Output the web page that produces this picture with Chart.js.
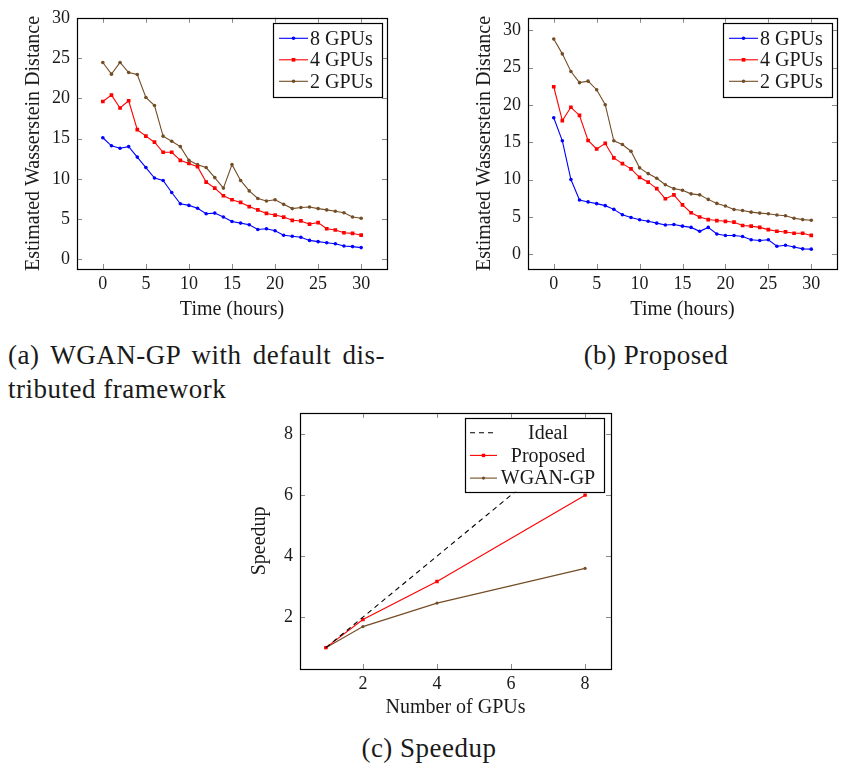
<!DOCTYPE html>
<html>
<head>
<meta charset="utf-8">
<script src="https://cdn.jsdelivr.net/npm/chart.js@4.4.1/dist/chart.umd.min.js"></script>
<style>
  body { margin: 0; background: #fff; width: 841px; height: 766px; position: relative; overflow: hidden; font-family: "Liberation Serif", "DejaVu Serif", serif; color: #1a1a1a; }
  canvas { position: absolute; }
  .cap { position: absolute; font-size: 27px; letter-spacing: 0.5px; white-space: nowrap; line-height: 32px; }
</style>
</head>
<body>
<canvas id="chartA" style="left:0;top:0" width="400" height="330"></canvas>
<canvas id="chartB" style="left:450px;top:0" width="391" height="330"></canvas>
<canvas id="chartC" style="left:240px;top:395px" width="390" height="330"></canvas>
<div class="cap" style="left:8px;top:339px;width:377px;text-align:justify;text-align-last:justify;">(a) WGAN-GP with default dis-</div>
<div class="cap" style="left:8px;top:373px;">tributed framework</div>
<div class="cap" style="left:556px;top:339px;width:200px;text-align:center;">(b) Proposed</div>
<div class="cap" style="left:329px;top:732px;width:200px;text-align:center;">(c) Speedup</div>
<script>
const hours = [0, 1, 2, 3, 4, 5, 6, 7, 8, 9, 10, 11, 12, 13, 14, 15, 16, 17, 18, 19, 20, 21, 22, 23, 24, 25, 26, 27, 28, 29, 30];

// (a) WGAN-GP with default distributed framework
const wgan8 = [15.1, 14.1, 13.8, 14.0, 12.7, 11.4, 10.1, 9.8, 8.3, 6.9, 6.7, 6.35, 5.66, 5.74, 5.25, 4.7, 4.5, 4.3, 3.7, 3.8, 3.55, 3.0, 2.87, 2.75, 2.35, 2.2, 2.06, 1.94, 1.66, 1.58, 1.46];
const wgan4 = [19.6, 20.4, 18.8, 19.7, 16.1, 15.3, 14.55, 13.3, 13.3, 12.3, 11.9, 11.5, 9.6, 8.85, 7.9, 7.4, 7.07, 6.55, 6.14, 5.7, 5.5, 5.25, 4.85, 4.77, 4.37, 4.57, 3.8, 3.64, 3.3, 3.23, 3.0];
const wgan2 = [24.45, 23.0, 24.45, 23.2, 22.96, 20.1, 19.1, 15.3, 14.67, 14.0, 12.3, 11.76, 11.4, 10.15, 8.85, 11.76, 9.8, 8.5, 7.56, 7.24, 7.4, 6.83, 6.3, 6.43, 6.5, 6.3, 6.14, 5.98, 5.78, 5.25, 5.1];

// (b) Proposed
const prop8 = [18.3, 15.2, 10.0, 7.25, 7.0, 6.77, 6.5, 6.0, 5.28, 4.9, 4.6, 4.4, 4.15, 3.9, 3.97, 3.75, 3.58, 3.06, 3.58, 2.7, 2.5, 2.5, 2.36, 1.92, 1.83, 1.92, 1.05, 1.18, 0.96, 0.7, 0.66];
const prop4 = [22.45, 17.9, 19.7, 18.6, 15.24, 14.1, 14.85, 12.9, 12.14, 11.44, 10.3, 9.65, 8.78, 7.42, 7.95, 6.6, 5.55, 4.98, 4.63, 4.5, 4.4, 4.28, 3.84, 3.75, 3.58, 3.28, 3.06, 2.97, 2.8, 2.8, 2.5];
const prop2 = [28.86, 26.86, 24.5, 23.0, 23.2, 22.05, 20.04, 15.2, 14.7, 13.8, 11.57, 10.8, 10.17, 9.3, 8.78, 8.56, 8.08, 7.95, 7.34, 6.8, 6.46, 5.98, 5.85, 5.63, 5.5, 5.41, 5.24, 5.15, 4.8, 4.63, 4.54];

// (c) Speedup
const gpuCounts = [1, 2, 4, 8];
const idealSpeedup = [1, 2, 4, 8];
const proposedSpeedup = [1, 1.92, 3.17, 6.0];
const wganSpeedup = [1, 1.69, 2.46, 3.6];

const hourTicks = [0, 5, 10, 15, 20, 25, 30];
const distTicks = [0, 5, 10, 15, 20, 25, 30];
const gpuTicks = [2, 4, 6, 8];
const speedupTicks = [2, 4, 6, 8];

const BLUE = '#0000ff', RED = '#ff0000', BROWN = '#734d26';
const FONT = '"Liberation Serif", "DejaVu Serif", serif';
const TEXT = '#1a1a1a';

const pts = (xs, ys) => xs.map((x, i) => ({ x: x, y: ys[i] }));

function series(label, xs, ys, color, style, r) {
  return {
    label: label,
    data: pts(xs, ys),
    borderColor: color,
    backgroundColor: color,
    borderWidth: 1.1,
    pointStyle: style,
    pointRadius: r,
    pointBorderWidth: 0,
    tension: 0,
  };
}

// axis box, inward ticks on all sides and a boxed legend (pgfplots look)
const frame = {
  id: 'frame',
  afterDatasetsDraw(chart, args, o) {
    const { ctx, chartArea: a, scales: { x, y } } = chart;
    ctx.save();
    ctx.strokeStyle = '#8a8a8a';
    ctx.lineWidth = 1;
    ctx.beginPath();
    x.ticks.forEach(t => {
      const px = Math.round(x.getPixelForValue(t.value)) + 0.5;
      ctx.moveTo(px, a.bottom); ctx.lineTo(px, a.bottom - 5);
      ctx.moveTo(px, a.top); ctx.lineTo(px, a.top + 5);
    });
    y.ticks.forEach(t => {
      const py = Math.round(y.getPixelForValue(t.value)) + 0.5;
      ctx.moveTo(a.left, py); ctx.lineTo(a.left + 5, py);
      ctx.moveTo(a.right, py); ctx.lineTo(a.right - 5, py);
    });
    ctx.stroke();
    ctx.strokeStyle = '#000';
    ctx.lineWidth = 1.2;
    ctx.strokeRect(Math.round(a.left) + 0.5, Math.round(a.top) + 0.5, Math.round(a.width), Math.round(a.height));

    // legend
    const bx = a.right - o.inset - o.w, by = a.top + o.insetTop;
    ctx.fillStyle = '#fff';
    ctx.fillRect(bx, by, o.w, o.h);
    ctx.strokeStyle = '#000';
    ctx.lineWidth = 1.2;
    ctx.strokeRect(Math.round(bx) + 0.5, Math.round(by) + 0.5, o.w, o.h);
    ctx.font = '20px ' + FONT;
    ctx.textBaseline = 'middle';
    chart.data.datasets.forEach((ds, i) => {
      const ly = by + o.rows[i];
      ctx.strokeStyle = ds.borderColor;
      ctx.lineWidth = ds.borderWidth;
      ctx.setLineDash(ds.borderDash || []);
      ctx.beginPath();
      ctx.moveTo(bx + o.sample[0], ly);
      ctx.lineTo(bx + o.sample[1], ly);
      ctx.stroke();
      ctx.setLineDash([]);
      const mx = bx + (o.sample[0] + o.sample[1]) / 2;
      ctx.fillStyle = ds.borderColor;
      if (ds.pointRadius > 0) {
        if (ds.pointStyle === 'rect') {
          const s = ds.pointRadius * Math.SQRT1_2;
          ctx.fillRect(mx - s, ly - s, 2 * s, 2 * s);
        } else {
          ctx.beginPath();
          ctx.arc(mx, ly, ds.pointRadius, 0, Math.PI * 2);
          ctx.fill();
        }
      }
      ctx.fillStyle = TEXT;
      if (o.center) {
        ctx.textAlign = 'center';
        ctx.fillText(ds.label, bx + o.center, ly + 1);
      } else {
        ctx.textAlign = 'left';
        ctx.fillText(ds.label, bx + o.textX, ly + 1);
      }
    });
    ctx.restore();
  }
};

function options(c) {
  return {
    responsive: false,
    animation: false,
    layout: { padding: c.padding },
    plugins: { legend: { display: false }, tooltip: { enabled: false }, frame: c.legend },
    scales: {
      x: {
        type: 'linear',
        min: c.xRange[0], max: c.xRange[1],
        afterBuildTicks: s => { s.ticks = c.xTicks.map(v => ({ value: v })); },
        afterFit: s => { s.height = c.xHeight; },
        grid: { display: false, drawTicks: false },
        border: { display: false },
        ticks: { color: TEXT, font: { family: FONT, size: 18 }, padding: c.xTickPad, maxRotation: 0 },
        title: { display: true, text: c.xTitle, color: TEXT, font: { family: FONT, size: 20 }, padding: { top: 0, bottom: c.xTitlePad } },
      },
      y: {
        type: 'linear',
        min: c.yRange[0], max: c.yRange[1],
        afterBuildTicks: s => { s.ticks = c.yTicks.map(v => ({ value: v })); },
        afterFit: s => { s.width = c.yWidth; },
        grid: { display: false, drawTicks: false },
        border: { display: false },
        ticks: { color: TEXT, font: { family: FONT, size: 18 }, padding: 7 },
        title: { display: true, text: c.yTitle, color: TEXT, font: { family: FONT, size: 20 }, padding: { top: c.yTitlePad, bottom: 0 } },
      },
    },
  };
}

const gpuLegend = { w: 109, h: 74, inset: 5, insetTop: 5, rows: [15.5, 37, 58.5], sample: [6, 35], textX: 37 };

new Chart(document.getElementById('chartA'), {
  type: 'line',
  plugins: [frame],
  data: {
    datasets: [
      series('8 GPUs', hours, wgan8, BLUE, 'circle', 1.8),
      series('4 GPUs', hours, wgan4, RED, 'rect', 2.6),
      series('2 GPUs', hours, wgan2, BROWN, 'circle', 1.8),
    ],
  },
  options: options({
    padding: { top: 12, right: 13, left: 0, bottom: 0 },
    xRange: [-3, 33], yRange: [-1.2, 30],
    xTicks: hourTicks, yTicks: distTicks,
    xHeight: 61, yWidth: 77, xTickPad: 4,
    xTitle: 'Time (hours)', yTitle: 'Estimated Wasserstein Distance',
    xTitlePad: 8, yTitlePad: 22,
    legend: gpuLegend,
  }),
});

new Chart(document.getElementById('chartB'), {
  type: 'line',
  plugins: [frame],
  data: {
    datasets: [
      series('8 GPUs', hours, prop8, BLUE, 'circle', 1.8),
      series('4 GPUs', hours, prop4, RED, 'rect', 2.6),
      series('2 GPUs', hours, prop2, BROWN, 'circle', 1.8),
    ],
  },
  options: options({
    padding: { top: 12, right: 4, left: 0, bottom: 0 },
    xRange: [-3, 33], yRange: [-2.0, 31.7],
    xTicks: hourTicks, yTicks: distTicks,
    xHeight: 61, yWidth: 78, xTickPad: 4,
    xTitle: 'Time (hours)', yTitle: 'Estimated Wasserstein Distance',
    xTitlePad: 8, yTitlePad: 23,
    legend: gpuLegend,
  }),
});

const ideal = series('Ideal', gpuCounts, idealSpeedup, '#000', 'circle', 0);
ideal.borderDash = [5, 4];

new Chart(document.getElementById('chartC'), {
  type: 'line',
  plugins: [frame],
  data: {
    datasets: [
      ideal,
      series('Proposed', gpuCounts, proposedSpeedup, RED, 'rect', 2.4),
      series('WGAN-GP', gpuCounts, wganSpeedup, BROWN, 'circle', 1.6),
    ],
  },
  options: options({
    padding: { top: 16, right: 19, left: 0, bottom: 0 },
    xRange: [0.3, 8.7], yRange: [0.3, 8.7],
    xTicks: gpuTicks, yTicks: speedupTicks,
    xHeight: 56, yWidth: 60, xTickPad: 4,
    xTitle: 'Number of GPUs', yTitle: 'Speedup',
    xTitlePad: 5, yTitlePad: 8,
    legend: { w: 139, h: 74, inset: 7, insetTop: 5, rows: [15, 37.6, 60.3], sample: [5, 32], center: 83 },
  }),
});
</script>
</body>
</html>
